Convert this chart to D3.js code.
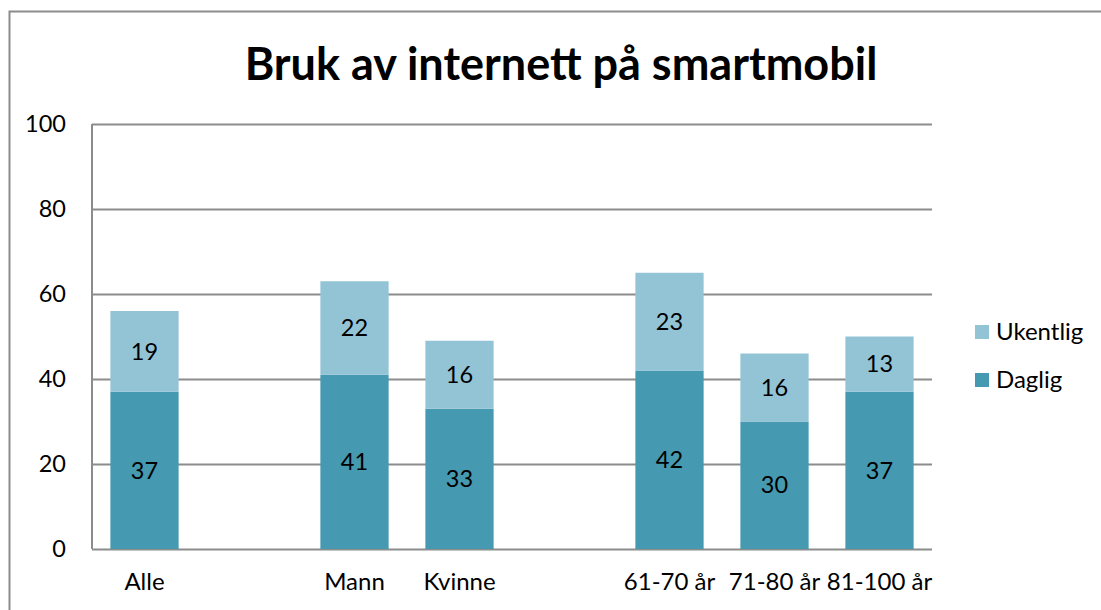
<!DOCTYPE html>
<html>
<head>
<meta charset="utf-8">
<title>Bruk av internett på smartmobil</title>
<script src="https://d3js.org/d3.v7.min.js"></script>
<style>
    body { margin: 0; background: #fff; }
    svg text { font-family: Lato, "Open Sans", sans-serif; fill: #000; }
    .grid line { stroke: #8c8c8c; stroke-width: 2; }
    .grid path { display: none; }
    .y.axis path, .y.axis line { display: none; }
    .x.axis path, .x.axis line { display: none; }
</style>
</head>
<body>
<div id="chart"></div>
<script>
// data
var categories = ["Alle", "gap1", "Mann", "Kvinne", "gap2", "61-70 år", "71-80 år", "81-100 år"];
var daglig   = [37, null, 41, 33, null, 42, 30, 37];
var ukentlig = [19, null, 22, 16, null, 23, 16, 13];
var seriesNames = ["Daglig", "Ukentlig"];
var yTicks = [0, 20, 40, 60, 80, 100];

var colors = { Daglig: "#4599b0", Ukentlig: "#93c4d6" };

var W = 1101, H = 610;
var plot = { left: 92, right: 932, top: 124, bottom: 549 };

var svg = d3.select("#chart").append("svg")
    .attr("width", W).attr("height", H);

// outer frame
svg.append("path")
    .attr("d", "M9.5," + H + "V11.5H" + W)
    .attr("fill", "none")
    .attr("stroke", "#8c8c8c")
    .attr("stroke-width", 2);

svg.append("text")
    .attr("x", 561).attr("y", 80)
    .attr("text-anchor", "middle")
    .style("font-size", "45px")
    .style("font-weight", "bold")
    .text("Bruk av internett på smartmobil");

var x = d3.scaleBand()
    .domain(categories)
    .range([plot.left, plot.right])
    .paddingInner(0.35)
    .paddingOuter(0.175);

var y = d3.scaleLinear()
    .domain([0, 100])
    .range([plot.bottom, plot.top]);

// gridlines
svg.append("g")
    .attr("class", "grid")
    .attr("transform", "translate(" + plot.left + ",0)")
    .call(d3.axisRight(y).tickValues(yTicks).tickSize(plot.right - plot.left).tickFormat(""));

// y axis line
svg.append("line")
    .attr("x1", plot.left).attr("x2", plot.left)
    .attr("y1", plot.top).attr("y2", plot.bottom)
    .attr("stroke", "#8c8c8c").attr("stroke-width", 2);

svg.append("g")
    .attr("class", "y axis")
    .attr("transform", "translate(" + (plot.left - 26) + ",0)")
    .call(d3.axisLeft(y).tickValues(yTicks).tickSize(0).tickPadding(0))
    .selectAll("text")
    .style("font-size", "23.5px");

svg.append("g")
    .attr("class", "x axis")
    .attr("transform", "translate(0," + plot.bottom + ")")
    .call(d3.axisBottom(x).tickSize(0).tickPadding(24).tickFormat(function(d) { return d.indexOf("gap") === 0 ? "" : d; }))
    .selectAll("text")
    .style("font-size", "24px");

// stacked bars
var rows = categories.map(function(c, i) {
    return { cat: c, Daglig: daglig[i], Ukentlig: ukentlig[i] };
}).filter(function(d) { return d.Daglig != null; });

var stack = d3.stack().keys(seriesNames)(rows);

var layers = svg.append("g").selectAll("g")
    .data(stack)
    .enter().append("g")
    .attr("fill", function(d) { return colors[d.key]; });

layers.selectAll("rect")
    .data(function(d) { return d; })
    .enter().append("rect")
    .attr("x", function(d) { return x(d.data.cat); })
    .attr("width", x.bandwidth())
    .attr("y", function(d) { return y(d[1]); })
    .attr("height", function(d) { return y(d[0]) - y(d[1]); });

layers.selectAll("text")
    .data(function(d) { return d; })
    .enter().append("text")
    .attr("x", function(d) { return x(d.data.cat) + x.bandwidth() / 2; })
    .attr("y", function(d) { return (y(d[0]) + y(d[1])) / 2; })
    .attr("dy", "0.35em")
    .attr("text-anchor", "middle")
    .style("font-size", "23.5px")
    .style("fill", "#000")
    .text(function(d) { return d[1] - d[0]; });

// legend
var legend = svg.append("g").selectAll("g")
    .data(["Ukentlig", "Daglig"])
    .enter().append("g")
    .attr("transform", function(d, i) { return "translate(975," + (332 + i * 48) + ")"; });

legend.append("rect")
    .attr("x", 0).attr("y", -7)
    .attr("width", 14).attr("height", 14)
    .attr("fill", function(d) { return colors[d]; });

legend.append("text")
    .attr("x", 21).attr("y", 0)
    .attr("dy", "0.35em")
    .style("font-size", "24px")
    .text(function(d) { return d; });
</script>
</body>
</html>
